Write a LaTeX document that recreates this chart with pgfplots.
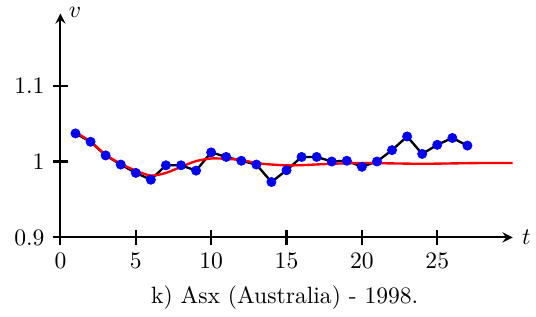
\documentclass[border=0pt]{standalone}
\usepackage{pgfplots}
\pgfplotsset{compat=1.18}
\usetikzlibrary{calc}
\begin{document}
\begin{tikzpicture}
\begin{axis}[
  scale only axis,
  width=191.6pt, height=94.9pt,
  xmin=0, xmax=30, ymin=0.9, ymax=1.195,
  axis lines=left,
  axis line style={line width=0.9pt, -stealth},
  xtick={0,5,10,15,20,25},
  ytick={0.9,1,1.1},
  yticklabels={0.9,1,1.1},
  tick align=center,
  major tick length=6.4pt,
  tick style={line width=0.9pt, black},
  xlabel={$t$}, ylabel={$v$},
  every axis x label/.style={at={(axis description cs:1,0)}, anchor=west, xshift=0.5pt},
  every axis y label/.style={at={(axis description cs:0,1)}, anchor=west, yshift=0.3pt},
  clip=false,
]
\addplot[black, line width=1pt, mark=*, mark size=1.95pt, mark options={blue, draw=blue, fill=blue, line width=0.3pt}] coordinates {
(1,1.037) (2,1.026) (3,1.008) (4,0.996) (5,0.985) (6,0.976) (7,0.995) (8,0.995)
(9,0.988) (10,1.012) (11,1.006) (12,1.001) (13,0.996) (14,0.973) (15,0.9885)
(16,1.006) (17,1.006) (18,1.000) (19,1.001) (20,0.993) (21,1.000) (22,1.015)
(23,1.033) (24,1.010) (25,1.022) (26,1.031) (27,1.021)
};
\addplot[red, line width=1pt, smooth] coordinates {
(0.9,1.040) (2,1.026) (3,1.009) (4,0.997) (5,0.988) (6,0.9815) (7,0.985) (8,0.993)
(9,1.0005) (10,1.004) (11,1.0035) (12,1.002) (13,0.998) (14,0.996) (15,0.995)
(16,0.9952) (18,0.997) (20,0.998) (22,0.9975) (24,0.997) (26,0.9975) (28,0.998) (30,0.998)
};
\coordinate (O) at (axis cs:0,0.9);
\node at (axis description cs:0.496,0) [yshift=-25.7pt] {k) Asx (Australia) - 1998.};
\end{axis}
\pgfresetboundingbox
\path[use as bounding box] ($(O)+(-25.6pt,-33.3pt)$) rectangle ++(227.1pt,133.9pt);
\end{tikzpicture}
\end{document}
